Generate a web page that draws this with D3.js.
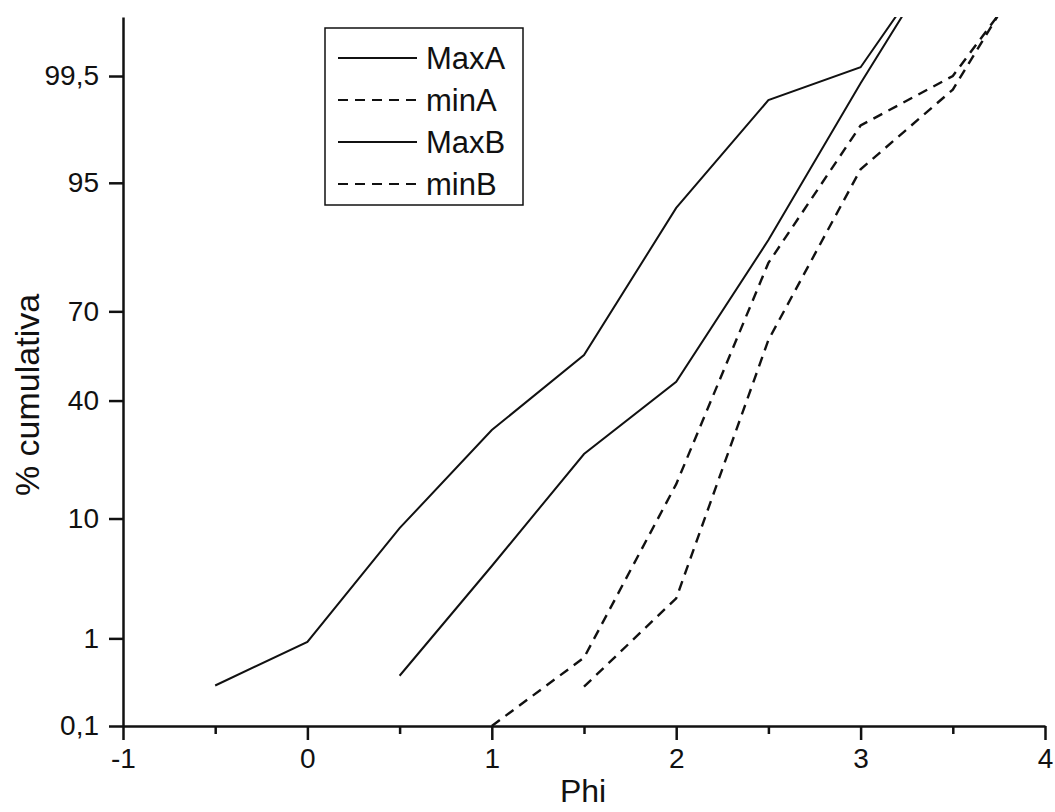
<!DOCTYPE html>
<html>
<head>
<meta charset="utf-8">
<script src="https://cdn.jsdelivr.net/npm/d3@7"></script>
<style>
  body { margin: 0; background: #fff; }
  svg { display: block; font-family: "Liberation Sans", Arial, sans-serif; }
</style>
</head>
<body>
<svg id="chart"></svg>
<script>
// Phi classes (x) and cumulative percentages
const phi = [-0.5, 0, 0.5, 1, 1.5, 2, 2.5, 3, 3.5, 4];
const maxA = [0.31, 0.92, 8.6, 30.5, 55.7, 92.3, 99.1, 99.6, 99.993, null];
const minA = [null, null, null, 0.1, 0.63, 16.3, 82.8, 98.4, 99.5, 99.987];
const maxB = [null, null, 0.4, 4.5, 23.6, 46.4, 87.4, 99.4, 99.993, null];
const minB = [null, null, null, null, 0.3, 2.4, 60.8, 96.1, 99.3, 99.992];

const seriesNames = ["MaxA", "minA", "MaxB", "minB"];
const seriesValues = [maxA, minA, maxB, minB];
const seriesDashed = [false, true, false, true];

const xTicks = [-1, 0, 1, 2, 3, 4];
const xMinorTicks = [-0.5, 0.5, 1.5, 2.5, 3.5];
const yTicks = [0.1, 1, 10, 40, 70, 95, 99.5];
const yTickLabels = ["0,1", "1", "10", "40", "70", "95", "99,5"];

// inverse normal CDF (Acklam), gives the probability-paper axis
function probit(p) {
    const a = [-39.69683028665376, 220.9460984245205, -275.9285104469687, 138.3577518672690, -30.66479806614716, 2.506628277459239];
    const b = [-54.47609879822406, 161.5858368580409, -155.6989798598866, 66.80131188771972, -13.28068155288572];
    const c = [-0.007784894002430293, -0.3223964580411365, -2.400758277161838, -2.549732539343734, 4.374664141464968, 2.938163982698783];
    const d = [0.007784695709041462, 0.3224671290700398, 2.445134137142996, 3.754408661907416];
    const pl = 0.02425;
    let q, r;
    if (p < pl) {
        q = Math.sqrt(-2 * Math.log(p));
        return (((((c[0] * q + c[1]) * q + c[2]) * q + c[3]) * q + c[4]) * q + c[5]) /
            ((((d[0] * q + d[1]) * q + d[2]) * q + d[3]) * q + 1);
    }
    if (p > 1 - pl) {
        q = Math.sqrt(-2 * Math.log(1 - p));
        return -(((((c[0] * q + c[1]) * q + c[2]) * q + c[3]) * q + c[4]) * q + c[5]) /
            ((((d[0] * q + d[1]) * q + d[2]) * q + d[3]) * q + 1);
    }
    q = p - 0.5;
    r = q * q;
    return (((((a[0] * r + a[1]) * r + a[2]) * r + a[3]) * r + a[4]) * r + a[5]) * q /
        (((((b[0] * r + b[1]) * r + b[2]) * r + b[3]) * r + b[4]) * r + 1);
}

const width = 1055;
const height = 812;
const margin = { top: 17, right: 10, bottom: 86, left: 123 };

const svg = d3.select("#chart").attr("width", width).attr("height", height);

const x = d3.scaleLinear()
    .domain([-1, 4])
    .range([margin.left, width - margin.right]);

const yz = d3.scaleLinear()
    .domain([probit(0.001), probit(0.999)])
    .range([height - margin.bottom, margin.top]);
const y = (pct) => yz(probit(pct / 100));

svg.append("defs").append("clipPath").attr("id", "plot")
    .append("rect")
    .attr("x", margin.left)
    .attr("y", margin.top)
    .attr("width", width - margin.right - margin.left)
    .attr("height", height - margin.bottom - margin.top);

// data lines
const line = d3.line()
    .defined((d) => d[1] != null)
    .x((d) => x(d[0]))
    .y((d) => y(d[1]));

seriesValues.forEach((vals, i) => {
    svg.append("path")
        .datum(phi.map((p, j) => [p, vals[j]]))
        .attr("clip-path", "url(#plot)")
        .attr("fill", "none")
        .attr("stroke", "#111")
        .attr("stroke-width", seriesDashed[i] ? 2.4 : 2)
        .attr("stroke-dasharray", seriesDashed[i] ? "10,7" : null)
        .attr("d", line);
});

// x axis
const xAxis = svg.append("g")
    .attr("transform", `translate(0, ${height - margin.bottom})`)
    .call(d3.axisBottom(x).tickValues(xTicks).tickSize(14).tickSizeOuter(0).tickPadding(8)
        .tickFormat(d3.format("d")));
svg.append("g")
    .attr("transform", `translate(0, ${height - margin.bottom})`)
    .call(d3.axisBottom(x).tickValues(xMinorTicks).tickSize(8).tickSizeOuter(0).tickFormat(""))
    .call((g) => g.select(".domain").remove());

// y axis
svg.append("g")
    .attr("transform", `translate(${margin.left}, 0)`)
    .call(d3.axisLeft(yz)
        .tickValues(yTicks.map((p) => probit(p / 100)))
        .tickFormat((d, i) => yTickLabels[i])
        .tickSize(14).tickSizeOuter(0).tickPadding(10));

svg.selectAll(".domain, .tick line")
    .attr("stroke", "#111")
    .attr("stroke-width", 2.5);
svg.selectAll(".tick text")
    .attr("fill", "#111")
    .style("font-size", "28px")
    .style("font-family", "'Liberation Sans', Arial, sans-serif");
xAxis.selectAll(".tick text").text((d) => d < 0 ? "-" + Math.abs(d) : d);

// axis titles
svg.append("text")
    .attr("x", 583)
    .attr("y", 802)
    .attr("text-anchor", "middle")
    .attr("fill", "#111")
    .style("font-size", "32px")
    .text("Phi");

svg.append("text")
    .attr("transform", "translate(39, 395) rotate(-90)")
    .attr("text-anchor", "middle")
    .attr("fill", "#111")
    .style("font-size", "34px")
    .text("% cumulativa");

// legend
const legend = svg.append("g").attr("transform", "translate(325, 28)");
legend.append("rect")
    .attr("width", 198)
    .attr("height", 177)
    .attr("fill", "#fff")
    .attr("stroke", "#111")
    .attr("stroke-width", 1.5);

const rows = legend.selectAll(".legend")
    .data(seriesNames)
    .enter()
    .append("g")
    .attr("class", "legend")
    .attr("transform", (d, i) => `translate(0, ${30 + i * 42})`);

rows.append("line")
    .attr("x1", 13)
    .attr("x2", 92)
    .attr("stroke", "#111")
    .attr("stroke-width", 2)
    .attr("stroke-dasharray", (d, i) => seriesDashed[i] ? "10,7" : null);

rows.append("text")
    .attr("x", 101)
    .attr("dy", "0.36em")
    .attr("fill", "#111")
    .style("font-size", "31px")
    .text((d) => d);
</script>
</body>
</html>
